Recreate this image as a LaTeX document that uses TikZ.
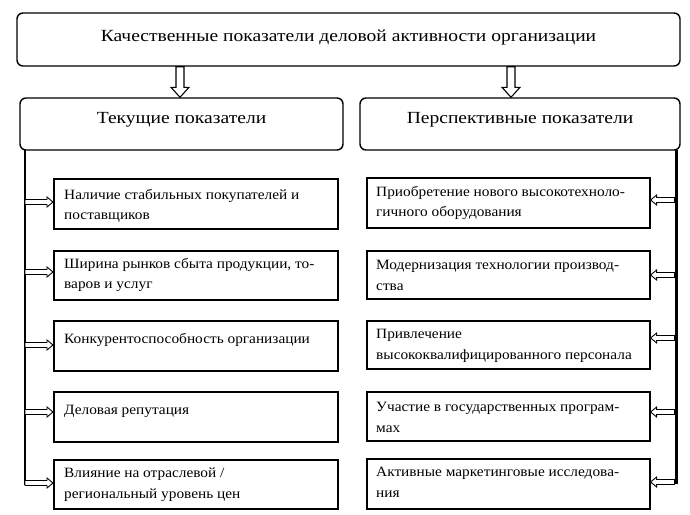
\documentclass[tikz,border=0pt]{standalone}
\usepackage{fontspec}
\setmainfont{Liberation Serif}
\newfontfamily\bigf[FakeStretch=1.15]{Liberation Serif}
\newfontfamily\smallf[FakeStretch=1.08]{Liberation Serif}
\usetikzlibrary{calc}
\begin{document}
\begin{tikzpicture}[x=1pt,y=-1pt,
  rbox/.style={draw, line width=1.4pt, rounded corners=6pt, inner sep=0pt},
  ibox/.style={draw, line width=1.6pt, inner sep=0pt, anchor=north west},
  itxt/.style={anchor=north west, inner sep=0pt, font=\smallf\fontsize{14.2}{20.5}\selectfont, align=left},
  htxt/.style={inner sep=0pt, font=\bigf\fontsize{17}{20}\selectfont},
  rarrow/.style={draw, fill=white, line width=0.9pt, line join=miter,
    to path={let \p1=(\tikztostart), \p2=(\tikztotarget) in
      (\x1,\y1+2.5pt) -- (\x2-6pt,\y1+2.5pt) -- (\x2-6pt,\y1+5pt) -- (\x2,\y1)
      -- (\x2-6pt,\y1-5pt) -- (\x2-6pt,\y1-2.5pt) -- (\x1,\y1-2.5pt) -- cycle}},
  larrow/.style={draw, fill=white, line width=0.9pt, line join=miter,
    to path={let \p1=(\tikztostart), \p2=(\tikztotarget) in
      (\x1,\y1+2.5pt) -- (\x2+6pt,\y1+2.5pt) -- (\x2+6pt,\y1+5pt) -- (\x2,\y1)
      -- (\x2+6pt,\y1-5pt) -- (\x2+6pt,\y1-2.5pt) -- (\x1,\y1-2.5pt) -- cycle}},
  darrow/.style={draw, fill=white, line width=1.1pt, line join=miter,
    to path={let \p1=(\tikztostart), \p2=(\tikztotarget) in
      (\x1-4pt,\y1) -- (\x1-4pt,\y2+10pt) -- (\x1-9pt,\y2+10pt) -- (\x1,\y2)
      -- (\x1+9pt,\y2+10pt) -- (\x1+4pt,\y2+10pt) -- (\x1+4pt,\y1) -- cycle}},
  vline/.style={line width=2pt}]
\useasboundingbox (0,0) rectangle (690,514);

% top
\node[rbox, minimum width=663pt, minimum height=53pt] (T) at (348.5,39.5) {};
\node[htxt] (Tt) at (348.5,37) {Качественные показатели деловой активности организации};

% second row
\node[rbox, minimum width=323pt, minimum height=52pt] (C) at (181.5,124) {};
\node[htxt] (Ct) at (181.5,120) {Текущие показатели};
\node[rbox, minimum width=320pt, minimum height=52pt] (P) at (520,124) {};
\node[htxt] (Pt) at (520,120) {Перспективные показатели};

\coordinate (ta1) at (180,66.7);
\coordinate (ta2) at (511,66.7);
\draw[darrow] (ta1) to (ta1 |- C.north);
\draw[darrow] (ta2) to (ta2 |- P.north);

% left boxes
\node[ibox, minimum width=284pt, minimum height=50pt] (L1) at (53,178) {};
\node[ibox, minimum width=284pt, minimum height=49pt] (L2) at (53,250) {};
\node[ibox, minimum width=284pt, minimum height=50pt] (L3) at (53,320) {};
\node[ibox, minimum width=284pt, minimum height=50pt] (L4) at (53,391) {};
\node[ibox, minimum width=284pt, minimum height=49pt] (L5) at (53,459) {};

\node[itxt] (L1t) at ([xshift=11pt,yshift=-11pt]L1.north west) {Наличие стабильных покупателей и\\поставщиков};
\node[itxt] (L2t) at ([xshift=11pt,yshift=-8pt]L2.north west) {Ширина рынков сбыта продукции, то-\\варов и услуг};
\node[itxt] (L3t) at ([xshift=11pt,yshift=-13pt]L3.north west) {Конкурентоспособность организации};
\node[itxt] (L4t) at ([xshift=11pt,yshift=-14pt]L4.north west) {Деловая репутация};
\node[itxt] (L5t) at ([xshift=11pt,yshift=-9pt]L5.north west) {Влияние на отраслевой /\\региональный уровень цен};

% right boxes
\node[ibox, minimum width=283pt, minimum height=50pt] (R1) at (366,177) {};
\node[ibox, minimum width=283pt, minimum height=48pt] (R2) at (366,250) {};
\node[ibox, minimum width=283pt, minimum height=48pt] (R3) at (366,320) {};
\node[ibox, minimum width=283pt, minimum height=49pt] (R4) at (366,391) {};
\node[ibox, minimum width=283pt, minimum height=50pt] (R5) at (366,458) {};

\node[itxt] (R1t) at ([xshift=10pt,yshift=-9pt]R1.north west) {Приобретение нового высокотехноло-\\гичного оборудования};
\node[itxt] (R2t) at ([xshift=10pt,yshift=-10pt]R2.north west) {Модернизация технологии производ-\\ства};
\node[itxt] (R3t) at ([xshift=10pt,yshift=-9pt]R3.north west) {Привлечение\\высококвалифицированного персонала};
\node[itxt] (R4t) at ([xshift=10pt,yshift=-11pt]R4.north west) {Участие в государственных програм-\\мах};
\node[itxt] (R5t) at ([xshift=10pt,yshift=-9pt]R5.north west) {Активные маркетинговые исследова-\\ния};

% left bus
\coordinate (lt) at (25,150);
\coordinate (lb) at (25,485);
\draw[vline] (lt) -- (lb);
\coordinate (la1) at (25,202);
\coordinate (la2) at (25,272);
\coordinate (la3) at (25,345);
\coordinate (la4) at (25,412);
\coordinate (la5) at (25,483);
\draw[rarrow] (la1) to (la1 -| L1.west);
\draw[rarrow] (la2) to (la2 -| L2.west);
\draw[rarrow] (la3) to (la3 -| L3.west);
\draw[rarrow] (la4) to (la4 -| L4.west);
\draw[rarrow] (la5) to (la5 -| L5.west);

% right bus
\coordinate (rt) at (676,150);
\coordinate (rb) at (676,484);
\draw[vline, line width=3pt] (rt) -- (rb);
\coordinate (ra1) at (674.5,200);
\coordinate (ra2) at (674.5,275);
\coordinate (ra3) at (674.5,338);
\coordinate (ra4) at (674.5,412);
\coordinate (ra5) at (674.5,482);
\draw[larrow] (ra1) to (ra1 -| R1.east);
\draw[larrow] (ra2) to (ra2 -| R2.east);
\draw[larrow] (ra3) to (ra3 -| R3.east);
\draw[larrow] (ra4) to (ra4 -| R4.east);
\draw[larrow] (ra5) to (ra5 -| R5.east);
\end{tikzpicture}
\end{document}
